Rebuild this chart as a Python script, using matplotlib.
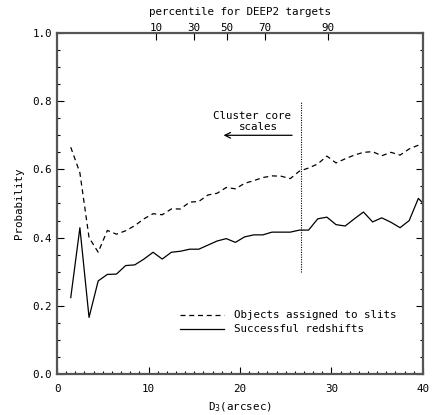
import numpy as np
import matplotlib
matplotlib.use('Agg')
import matplotlib.pyplot as plt

# separation bins (arcsec)
d3 = [1.5, 2.5, 3.5, 4.5, 5.5, 6.5, 7.5, 8.5, 9.5, 10.5,
      11.5, 12.5, 13.5, 14.5, 15.5, 16.5, 17.5, 18.5, 19.5, 20.5,
      21.5, 22.5, 23.5, 24.5, 25.5, 26.5, 27.5, 28.5, 29.5, 30.5,
      31.5, 32.5, 33.5, 34.5, 35.5, 36.5, 37.5, 38.5, 39.5, 40.5]

# fraction of objects assigned to slits
p_slits = [0.665, 0.590, 0.400, 0.357, 0.421, 0.410, 0.420, 0.435, 0.455, 0.470,
           0.467, 0.484, 0.484, 0.504, 0.506, 0.525, 0.530, 0.547, 0.543, 0.559,
           0.567, 0.576, 0.581, 0.580, 0.573, 0.595, 0.604, 0.616, 0.639, 0.619,
           0.631, 0.642, 0.650, 0.652, 0.640, 0.650, 0.642, 0.660, 0.671, 0.680]

# fraction with successful redshifts
p_z = [0.224, 0.429, 0.166, 0.273, 0.292, 0.293, 0.318, 0.320, 0.337, 0.357,
       0.337, 0.357, 0.360, 0.366, 0.366, 0.378, 0.390, 0.397, 0.386, 0.402,
       0.408, 0.408, 0.416, 0.416, 0.416, 0.422, 0.422, 0.455, 0.460, 0.438,
       0.434, 0.455, 0.475, 0.446, 0.458, 0.445, 0.429, 0.450, 0.515, 0.487]

# percentile axis on top
pct_pos = [10.8, 15.0, 18.55, 22.73, 29.6]
pct_lab = ['10', '30', '50', '70', '90']

font = 'DejaVu Sans Mono'
fs = 7.8

fig = plt.figure(figsize=(4.32, 4.15), dpi=100)
ax = fig.add_axes([0.132, 0.0988, 0.847, 0.8217])

ax.plot(d3, p_slits, color='black', lw=0.9, ls=(0, (4, 3)))
ax.plot(d3, p_z, color='black', lw=0.9)

ax.set_xlim(0, 40)
ax.set_ylim(0, 1.0)

# cluster core marker
ax.plot([26.7, 26.7], [0.30, 0.80], color='black', lw=0.8, ls=(0, (1, 1.2)))
ax.annotate('', xy=(17.9, 0.70), xytext=(26.0, 0.70),
            arrowprops=dict(arrowstyle='->', color='black', lw=0.9))
ax.text(21.3, 0.758, 'Cluster core', ha='center', va='center', family=font, fontsize=fs)
ax.text(22.0, 0.724, 'scales', ha='center', va='center', family=font, fontsize=fs)

# legend drawn by hand like the original
ax.plot([13.4, 18.2], [0.172, 0.172], color='black', lw=0.9, ls=(0, (4, 3)))
ax.plot([13.4, 18.2], [0.131, 0.131], color='black', lw=0.9)
ax.text(19.3, 0.172, 'Objects assigned to slits', va='center', family=font, fontsize=fs)
ax.text(19.3, 0.131, 'Successful redshifts', va='center', family=font, fontsize=fs)

ax.set_xticks([0, 10, 20, 30, 40])
ax.set_xticks(np.arange(0, 41, 1), minor=True)
ax.set_yticks([0.0, 0.2, 0.4, 0.6, 0.8, 1.0])
ax.set_yticklabels(['0.0', '0.2', '0.4', '0.6', '0.8', '1.0'])
ax.set_yticks(np.arange(0, 1.001, 0.05), minor=True)
ax.tick_params(which='both', direction='in', top=False, right=True,
               labelsize=fs, width=0.8)
ax.tick_params(which='major', length=5)
ax.tick_params(which='minor', length=2.5)
ax.tick_params(axis='x', pad=7)
for lab in ax.get_xticklabels() + ax.get_yticklabels():
    lab.set_family(font)
for s in ax.spines.values():
    s.set_linewidth(1.6)
    s.set_color('#555555')

ax.set_xlabel('D$_3$(arcsec)', family=font, fontsize=fs, labelpad=5)
ax.set_ylabel('Probability', family=font, fontsize=fs, labelpad=6)

top = ax.secondary_xaxis('top')
top.set_xticks(pct_pos)
top.set_xticklabels(pct_lab, family=font, fontsize=fs)
top.tick_params(direction='in', length=5, width=0.8, pad=0)
top.spines['top'].set_visible(False)
fig.text(ax.get_position().x0 + ax.get_position().width * 0.5, 0.971,
         'percentile for DEEP2 targets', ha='center', va='center',
         family=font, fontsize=fs)

fig.savefig('out.png', dpi=100)
